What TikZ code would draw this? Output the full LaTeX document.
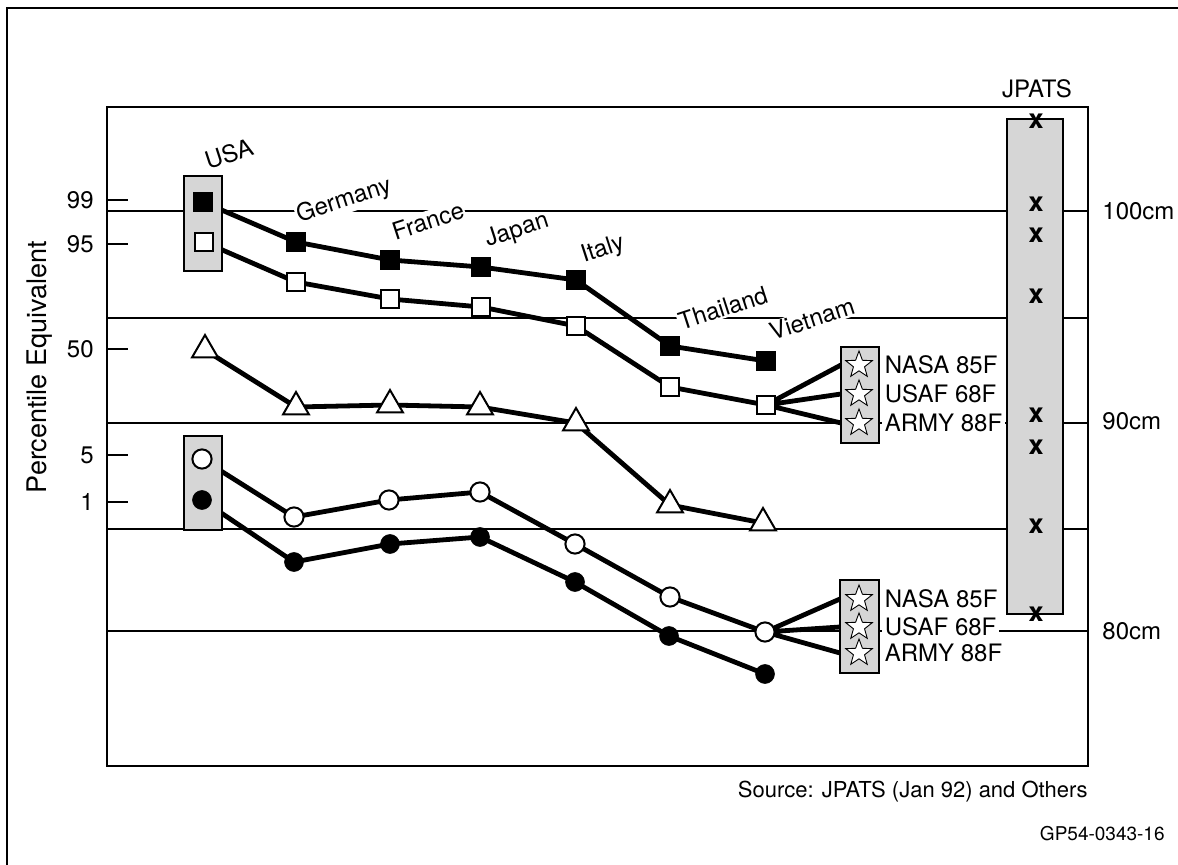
\documentclass[tikz,border=0pt]{standalone}
\usepackage{fontspec}
\setmainfont{TeX Gyre Heros}
\usetikzlibrary{shapes.geometric}
\pgfdeclarelayer{background}
\pgfsetlayers{background,main}
\begin{document}
\begin{tikzpicture}[x=0.5pt,y=-0.5pt,
  gridline/.style={line width=0.55pt},
  series/.style={line width=2.4pt,line join=round},
  fsq/.style={rectangle,draw=black,fill=black,minimum size=9.4pt,inner sep=0pt,line width=0.8pt},
  osq/.style={rectangle,draw=black,fill=white,minimum size=9.4pt,inner sep=0pt,line width=1pt},
  tri/.style={regular polygon,regular polygon sides=3,draw=black,fill=white,minimum size=15pt,inner sep=0pt,line width=1pt},
  ocirc/.style={circle,draw=black,fill=white,minimum size=9.6pt,inner sep=0pt,line width=1pt},
  fcirc/.style={circle,draw=black,fill=black,minimum size=9.4pt,inner sep=0pt},
  gbox/.style={draw=black,fill=black!16,line width=1.1pt},
  starm/.style={star,star points=5,star point ratio=2.4,draw=black,fill=white,minimum size=14pt,inner sep=0pt,line width=0.45pt},
  lbl/.style={font=\fontsize{12}{14}\selectfont,inner sep=1pt},
  ctry/.style={lbl,rotate=18,inner sep=0.6pt},
  slbl/.style={lbl,anchor=west,fill=white,inner sep=1.2pt},
  xm/.style={font=\fontsize{13.5}{15}\selectfont\bfseries,inner sep=0pt},
  tick/.style={line width=1.2pt}
]
\useasboundingbox (0,0) rectangle (1178,865);
% outer frame
\draw[line width=1.3pt] (7,865) -- (7,8) -- (1178,8);
% plot frame
\draw[line width=1.1pt] (107,107) rectangle (1088,766);

% markers
\foreach \p [count=\i] in {(203,202),(296,242),(390,260),(481,267),(576,280),(670,346),(766,361)}
  \node[fsq] (fs\i) at \p {};
\foreach \p [count=\i] in {(204,242),(296,282),(390,299),(481,307),(576,326),(670,387),(766,405)}
  \node[osq] (os\i) at \p {};
\foreach \p [count=\i] in {(205,350),(296,407),(390,405),(480,407),(576,423),(670,505),(763,523)}
  \node[tri] (tr\i) at \p {};
\foreach \p [count=\i] in {(202,459),(294,517),(389,500),(480,492),(575,544),(670,597),(765,632)}
  \node[ocirc] (oc\i) at \p {};
\foreach \p [count=\i] in {(202,500),(294,562),(390,544),(480,537),(575,582),(669,636),(765,674)}
  \node[fcirc] (fc\i) at \p {};

% star box connection points
\coordinate (ua) at (841,365);
\coordinate (ub) at (841,394);
\coordinate (uc) at (841,423);
\coordinate (la) at (840,599);
\coordinate (lb) at (840,627);
\coordinate (lc) at (840,653);

\begin{pgfonlayer}{background}
  % grid lines
  \foreach \y in {211,318,423,529,631}
    \draw[gridline] (107,\y) -- (1088,\y);
  % series
  \draw[series] (fs1.center) \foreach \i in {2,...,7}{ -- (fs\i.center)};
  \draw[series] (os1.center) \foreach \i in {2,...,7}{ -- (os\i.center)};
  \draw[series] (tr1.center) \foreach \i in {2,...,7}{ -- (tr\i.center)};
  \draw[series] (oc1.center) \foreach \i in {2,...,7}{ -- (oc\i.center)};
  \draw[series] (fc1.center) \foreach \i in {2,...,7}{ -- (fc\i.center)};
  \draw[series] (os7.center) -- (ua) (os7.center) -- (ub) (os7.center) -- (uc);
  \draw[series] (oc7.center) -- (la) (oc7.center) -- (lb) (oc7.center) -- (lc);
\end{pgfonlayer}

% gray boxes
\draw[gbox] (184,176) rectangle (222,271);
\draw[gbox] (184,436) rectangle (222,530);
\draw[gbox] (841,347) rectangle (879,443);
\draw[gbox] (840,580) rectangle (879,673);
\draw[gbox] (1007,119) rectangle (1063,614);

% redraw USA markers on top of boxes
\node[fsq] at (fs1) {};
\node[osq] at (os1) {};
\node[ocirc] at (oc1) {};
\node[fcirc] at (fc1) {};

% stars
\foreach \y [count=\i] in {365,394,423} \node[starm] (su\i) at (859,\y) {};
\foreach \y [count=\i] in {599,627,653} \node[starm] (sl\i) at (859,\y) {};

% star labels
\node[slbl] (n1) at (882,365) {NASA 85F};
\node[slbl] (n2) at (882,394) {USAF 68F};
\node[slbl] (n3) at (882,423) {ARMY 88F};
\node[slbl] (n4) at (882,599) {NASA 85F};
\node[slbl] (n5) at (882,627) {USAF 68F};
\node[slbl] (n6) at (882,653) {ARMY 88F};

% country labels
\node[ctry] (cusa) at (229,154) {USA};
\node[ctry,fill=white] (cger) at (344,201) {Germany};
\node[ctry,fill=white] (cfra) at (428,221) {France};
\node[ctry] (cjap) at (517,231) {Japan};
\node[ctry] (cita) at (603,250) {Italy};
\node[ctry,fill=white] (ctha) at (723,308) {Thailand};
\node[ctry,fill=white] (cvie) at (812,319) {Vietnam};

% JPATS
\node[lbl] (jp) at (1037,89) {JPATS};
\foreach \y [count=\i] in {121,204,235,296,415,447,526,614}
  \node[xm] (x\i) at (1036,\y) {x};

% left axis ticks
\foreach \y/\t in {200/99,244/95,349/50,455/5,502/1}{
  \draw[tick] (107,\y) -- (128,\y);
  \node[lbl,anchor=east] at (96,\y) {\t};
}
\node[font=\fontsize{13.5}{15}\selectfont,rotate=90,inner sep=0pt] (ylab) at (40,367) {Percentile Equivalent};

% right axis labels
\node[lbl,anchor=west] (r100) at (1100,211) {100cm};
\node[lbl,anchor=west] (r90) at (1100,421) {90cm};
\node[lbl,anchor=west] (r80) at (1100,631) {80cm};

% footer
\node[font=\fontsize{11}{13}\selectfont,anchor=east,inner sep=0pt] (src) at (1088,792) {Source: JPATS (Jan 92) and Others};
\node[font=\fontsize{9.5}{11}\selectfont,anchor=east,inner sep=0pt] (gp) at (1165,834) {GP54-0343-16};
\end{tikzpicture}
\end{document}
